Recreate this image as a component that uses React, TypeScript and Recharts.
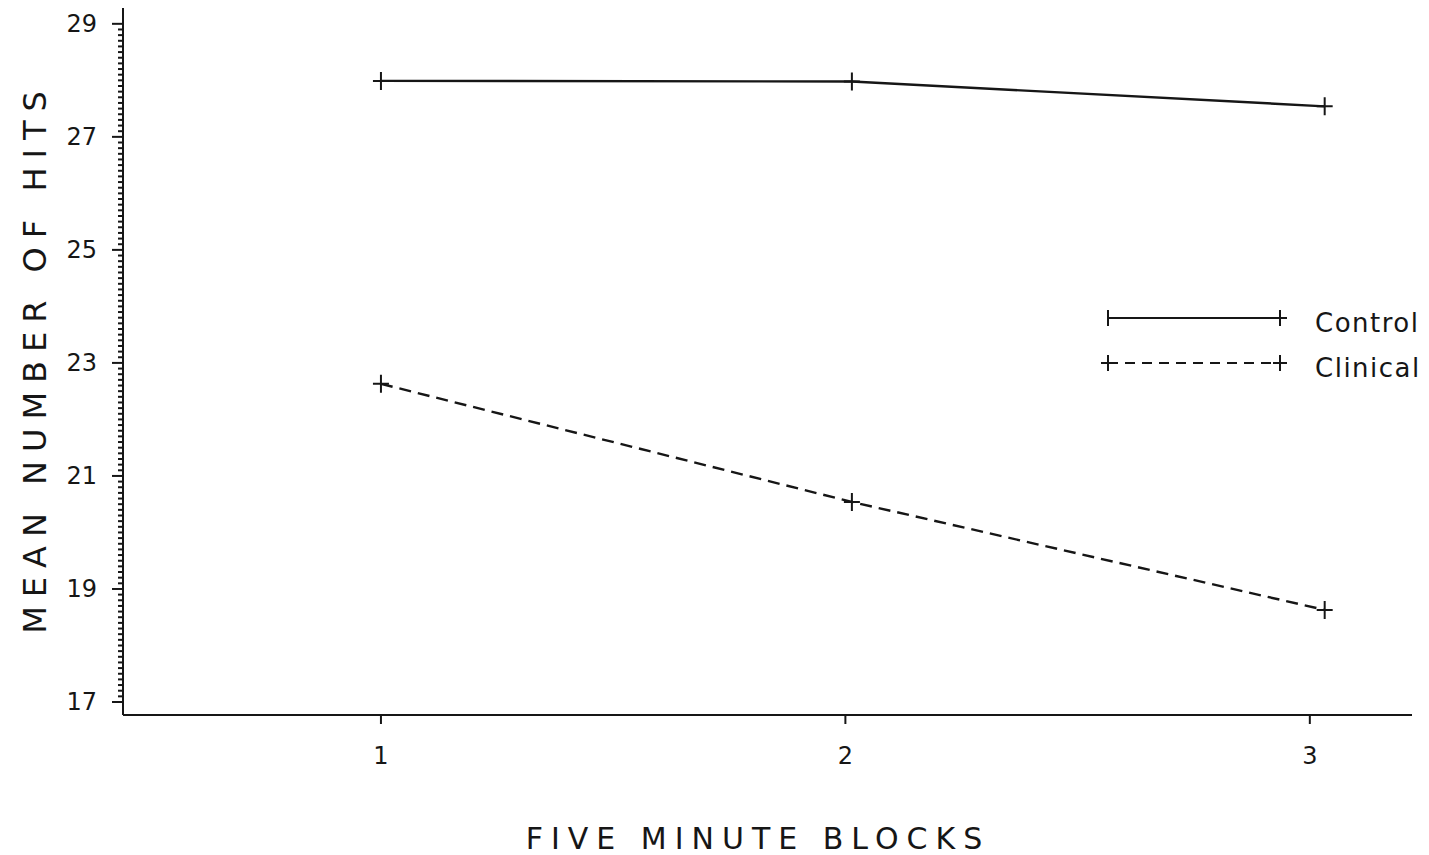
import React from "react";
import { LineChart, Line, XAxis, YAxis, Legend } from "recharts";

const blocks = [1, 2.014, 3.032];
const controlValues = [27.99, 27.98, 27.54];
const clinicalValues = [22.63, 20.54, 18.63];
const seriesNames = ["Control", "Clinical"];
const xTicks = [1, 2, 3];
const yMajorTicks = [17, 19, 21, 23, 25, 27, 29];

const yAllTicks: number[] = [];
for (let i = 170; i <= 290; i++) yAllTicks.push(i / 10);

const data = blocks.map((b, i) => ({
  block: b,
  control: controlValues[i],
  clinical: clinicalValues[i],
}));

const FONT = "'DejaVu Sans', sans-serif";
const INK = "#161616";

const PlusDot = (props: any) => {
  const { cx, cy } = props;
  if (cx == null || cy == null) return null;
  return (
    <path
      d={`M${cx - 8},${cy} L${cx + 8},${cy} M${cx},${cy - 9} L${cx},${cy + 9}`}
      stroke={INK}
      strokeWidth={2}
      fill="none"
    />
  );
};

const YTick = (props: any) => {
  const { x, y, payload } = props;
  const v = payload.value;
  const r = Math.round(v);
  const isMajor = Math.abs(v - r) < 1e-6 && yMajorTicks.includes(r);
  return (
    <g>
      <line x1={x - (isMajor ? 11 : 5)} x2={x} y1={y} y2={y} stroke={INK} strokeWidth={2} />
      {isMajor ? (
        <text
          x={x - 26}
          y={y}
          textAnchor="end"
          dominantBaseline="central"
          fontFamily={FONT}
          fontSize={24}
          fill={INK}
        >
          {r}
        </text>
      ) : null}
    </g>
  );
};

const LegendContent = (props: any) => {
  const payload = [...(props.payload || [])].sort(
    (a: any, b: any) => seriesNames.indexOf(a.value) - seriesNames.indexOf(b.value)
  );
  return (
    <svg width={340} height={90} style={{ overflow: "visible" }}>
      {payload.map((entry: any, i: number) => {
        const y = 18 + i * 45;
        const dashed = entry.value === "Clinical";
        return (
          <g key={entry.value}>
            <line
              x1={13}
              x2={185}
              y1={y}
              y2={y}
              stroke={INK}
              strokeWidth={2.2}
              strokeDasharray={dashed ? "10 7" : undefined}
            />
            {dashed ? (
              <path d={`M${6},${y} L${20},${y} M${13},${y - 8} L${13},${y + 8}`} stroke={INK} strokeWidth={2} />
            ) : (
              <path d={`M${13},${y - 8} L${13},${y + 8}`} stroke={INK} strokeWidth={2} />
            )}
            <path d={`M${178},${y} L${192},${y} M${185},${y - 8} L${185},${y + 8}`} stroke={INK} strokeWidth={2} />
            <text
              x={220}
              y={y + 5}
              dominantBaseline="central"
              fontFamily={FONT}
              fontSize={26}
              letterSpacing={1.5}
              fill={INK}
            >
              {entry.value}
            </text>
          </g>
        );
      })}
    </svg>
  );
};

export default function App() {
  return (
    <div style={{ position: "absolute", left: 0, top: 0, width: 1429, height: 855, background: "#fff" }}>
      <LineChart
        width={1429}
        height={855}
        data={data}
        margin={{ top: 8, right: 17, bottom: 110, left: 63 }}
      >
        <XAxis
          dataKey="block"
          type="number"
          domain={[0.4446, 3.22]}
          ticks={xTicks}
          allowDataOverflow
          height={30}
          stroke={INK}
          axisLine={{ stroke: INK, strokeWidth: 2 }}
          tickLine={{ stroke: INK, strokeWidth: 2 }}
          tickSize={9}
          tickMargin={23}
          tick={{ fill: INK, fontSize: 24, fontFamily: FONT }}
          label={() => (
            <text
              x={758}
              y={838}
              textAnchor="middle"
              dominantBaseline="central"
              fontFamily={FONT}
              fontSize={30}
              letterSpacing={8}
              fill={INK}
            >
              FIVE MINUTE BLOCKS
            </text>
          )}
        />
        <YAxis
          type="number"
          domain={[16.77, 29.28]}
          ticks={yAllTicks}
          interval={0}
          allowDataOverflow
          width={60}
          axisLine={{ stroke: INK, strokeWidth: 2 }}
          tickLine={false}
          tickSize={0}
          tickMargin={0}
          tick={<YTick />}
          label={() => (
            <text
              x={35}
              y={358}
              transform="rotate(-90 35 358)"
              textAnchor="middle"
              dominantBaseline="central"
              fontFamily={FONT}
              fontSize={32}
              letterSpacing={9}
              fill={INK}
            >
              MEAN NUMBER OF HITS
            </text>
          )}
        />
        <Legend
          layout="vertical"
          align="center"
          verticalAlign="middle"
          content={<LegendContent />}
          wrapperStyle={{ left: 1095, top: 300, width: 340, height: 90 }}
        />
        <Line
          name="Control"
          dataKey="control"
          stroke={INK}
          strokeWidth={2.4}
          dot={<PlusDot />}
          activeDot={false}
          isAnimationActive={false}
          type="linear"
        />
        <Line
          name="Clinical"
          dataKey="clinical"
          stroke={INK}
          strokeWidth={2.4}
          strokeDasharray="12 7"
          dot={<PlusDot />}
          activeDot={false}
          isAnimationActive={false}
          type="linear"
        />
      </LineChart>
    </div>
  );
}
